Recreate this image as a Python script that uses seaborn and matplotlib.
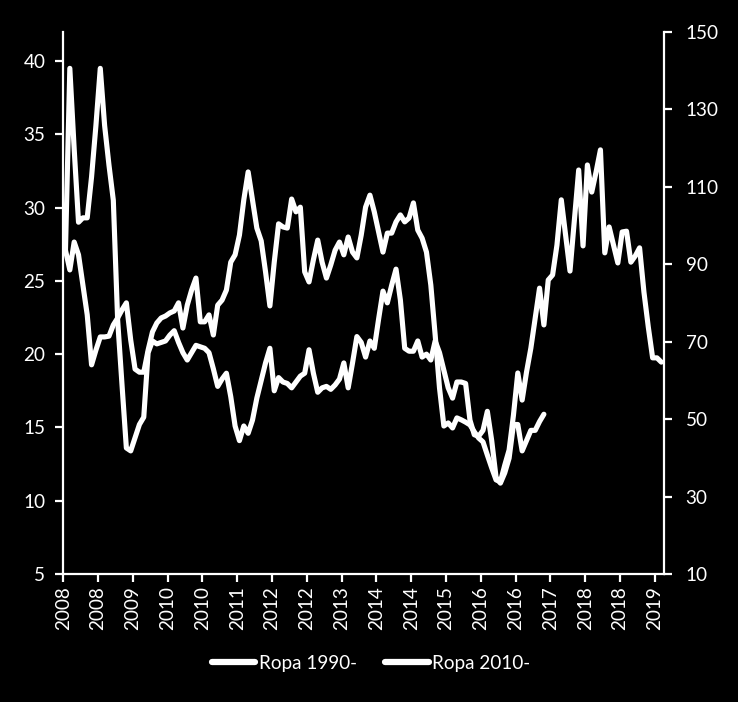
import numpy as np
import pandas as pd
import matplotlib
matplotlib.use("Agg")
import matplotlib.pyplot as plt
import seaborn as sns

# ---- data (monthly, Jan 2008 .. Jun 2019) ----
tick_labels = ["2008", "2008", "2009", "2010", "2010", "2011", "2012", "2012", "2013",
               "2014", "2014", "2015", "2016", "2016", "2017", "2018", "2018", "2019"]

ropa_1990 = [27.1, 39.5, 34.0, 29.0, 29.3, 29.3, 32.1, 35.6, 39.5, 35.6,
             32.9, 30.5, 22.3, 17.9, 13.6, 13.4, 14.3, 15.2, 15.7, 20.1,
             20.9, 20.7, 20.8, 20.9, 21.3, 21.6, 20.8, 20.1, 19.6, 20.1,
             20.6, 20.5, 20.4, 20.1, 19.0, 17.8, 18.3, 18.7, 17.1, 15.1,
             14.1, 15.1, 14.6, 15.5, 17.0, 18.2, 19.4, 20.4, 17.5, 18.4,
             18.1, 18.0, 17.7, 18.1, 18.5, 18.7, 20.3, 18.7, 17.4, 17.7,
             17.8, 17.6, 17.9, 18.3, 19.4, 17.7, 19.4, 21.2, 20.8, 19.8,
             20.9, 20.4, 22.4, 24.3, 23.5, 24.7, 25.8, 23.7, 20.4, 20.2,
             20.2, 20.9, 19.8, 20.0, 19.6, 20.9, 20.1, 18.9, 17.7, 17.0,
             18.1, 18.1, 18.0, 15.5, 14.5, 14.4, 14.8, 16.1, 14.1, 11.6,
             11.2, 11.9, 12.9, 15.2, 15.2, 13.4, 14.1, 14.8, 14.8, 15.4, 15.9]

ropa_2010 = [93.6, 88.5, 95.7, 92.4, 84.6, 76.9, 64.0, 67.8, 71.2, 71.2,
             71.4, 74.3, 76.1, 78.2, 80.0, 70.4, 62.9, 62.1, 62.1, 67.8,
             72.5, 74.8, 76.1, 76.6, 77.4, 77.9, 80.0, 73.5, 79.4, 83.3,
             86.4, 75.1, 75.1, 76.9, 71.7, 79.4, 80.7, 83.3, 90.5, 92.4,
             97.5, 106.6, 113.8, 106.6, 99.3, 96.0, 88.0, 79.2, 90.5, 100.4,
             99.6, 99.3, 106.8, 103.5, 104.7, 88.0, 85.4, 91.1, 96.2, 90.5,
             86.4, 89.8, 93.6, 95.7, 92.4, 97.0, 93.1, 91.6, 97.5, 104.7,
             107.8, 103.5, 98.3, 93.1, 98.0, 98.0, 100.9, 102.7, 100.9, 101.9,
             105.8, 98.8, 96.7, 93.1, 84.6, 71.7, 58.0, 48.2, 49.0, 47.7,
             50.3, 49.8, 49.2, 48.5, 46.7, 45.1, 44.1, 40.7, 37.4, 34.3,
             33.8, 38.1, 42.0, 51.0, 61.9, 54.9, 62.1, 68.3, 76.1, 83.8,
             74.3, 85.9, 87.2, 94.9, 106.6, 97.3, 88.2, 101.4, 114.3, 94.7,
             115.6, 108.6, 113.8, 119.5, 92.9, 99.6, 94.9, 90.3, 98.3, 98.5,
             90.5, 92.1, 94.2, 82.8, 73.8, 65.8, 65.8, 64.7]

n_months = len(ropa_2010)
df1 = pd.DataFrame({"m": np.arange(len(ropa_1990)), "v": ropa_1990})
df2 = pd.DataFrame({"m": np.arange(n_months), "v": ropa_2010})

# ---- style ----
sns.set_style("dark", {"axes.facecolor": "black", "figure.facecolor": "black",
                       "axes.edgecolor": "white", "text.color": "white",
                       "xtick.color": "white", "ytick.color": "white",
                       "axes.grid": False})
plt.rcParams["font.family"] = ["Lato", "DejaVu Sans"]
FS = 13.6
plt.rcParams["font.size"] = FS

W, H = 738, 702
fig = plt.figure(figsize=(W / 100, H / 100), dpi=100, facecolor="black")
x0, x1, ytop, ybot = 63.3, 663.5, 31.7, 574.0
ax = fig.add_axes([x0 / W, 1 - ybot / H, (x1 - x0) / W, (ybot - ytop) / H])
ax.set_facecolor("black")
ax2 = ax.twinx()

lw = 3.7
sns.lineplot(data=df1, x="m", y="v", ax=ax, color="white", linewidth=lw,
             label="Ropa 1990-", legend=False)
sns.lineplot(data=df2, x="m", y="v", ax=ax2, color="white", linewidth=lw,
             label="Ropa 2010-", legend=False)
for a in (ax, ax2):
    for ln in a.lines:
        ln.set_solid_joinstyle("round")
        ln.set_solid_capstyle("round")

ax.set_xlim(-0.5, n_months - 0.5)
ax.set_ylim(5, 42)
ax2.set_ylim(10, 150)
ax.set_yticks(np.arange(5, 41, 5))
ax2.set_yticks(np.arange(10, 151, 20))
ax.set_xticks(np.arange(len(tick_labels)) * 8 - 0.5)
ax.set_xticklabels(tick_labels, rotation=90)

ax.set_xlabel("")
ax.set_ylabel("")
ax2.set_ylabel("")

for a in (ax, ax2):
    a.spines["top"].set_visible(False)
    for s in a.spines.values():
        s.set_color("white")
        s.set_linewidth(1.6)
    a.tick_params(colors="white", labelsize=FS, width=1.6)
ax.spines["right"].set_visible(False)
ax2.spines["left"].set_visible(False)
ax2.spines["bottom"].set_visible(False)
ax.tick_params(axis="y", direction="out", length=6, pad=7, left=True)
ax.tick_params(axis="x", direction="out", length=6, pad=3, bottom=True)
ax2.tick_params(axis="y", direction="out", length=6, pad=10, right=True)

handles = ax.lines[:1] + ax2.lines[:1]
leg = fig.legend(handles, ["Ropa 1990-", "Ropa 2010-"], loc="center",
                 bbox_to_anchor=(371 / W, 1 - 663 / H), ncol=2, frameon=False,
                 handlelength=2.3, handletextpad=0.2, columnspacing=1.5,
                 fontsize=FS)
for t in leg.get_texts():
    t.set_color("white")
for h in leg.get_lines():
    h.set_linewidth(4.5)
    h.set_solid_capstyle("round")

fig.savefig("out.png", dpi=100, facecolor="black")
